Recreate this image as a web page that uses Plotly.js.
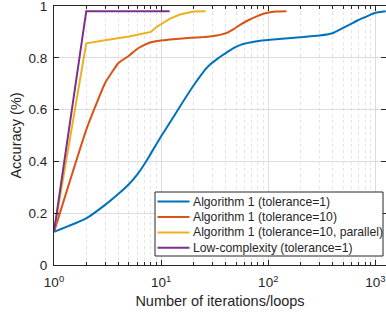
<!DOCTYPE html>
<html>
<head>
<meta charset="utf-8">
<script src="https://cdn.plot.ly/plotly-3.0.1.min.js"></script>
<style>html,body{margin:0;padding:0;background:#fff;}#chart{width:386px;height:316px;}</style>
</head>
<body>
<div id="chart"></div>
<script>
// Data
const seriesNames = [
  "Algorithm 1 (tolerance=1)",
  "Algorithm 1 (tolerance=10)",
  "Algorithm 1 (tolerance=10, parallel)",
  "Low-complexity (tolerance=1)"
];
const alg1Tol1X = [1,2,3,4,5,6,7,8,10,12,15,20,23,26,29,33,37,45,55,78,104,198,300,405,480,580,680,771,880,991,1104,1250];
const alg1Tol1Y = [0.128,0.180,0.232,0.275,0.312,0.350,0.390,0.430,0.497,0.548,0.612,0.692,0.727,0.756,0.776,0.794,0.809,0.832,0.850,0.864,0.870,0.879,0.886,0.896,0.912,0.929,0.944,0.954,0.965,0.973,0.977,0.980];
const alg1Tol10X = [1,2,3,4,5,6,7,8,10,13,19,25,33,41,48,55,65,78,90,104,120,148];
const alg1Tol10Y = [0.128,0.522,0.703,0.780,0.808,0.835,0.850,0.860,0.867,0.872,0.877,0.880,0.886,0.896,0.912,0.928,0.945,0.960,0.970,0.976,0.979,0.980];
const alg1ParX = [1,2,3,4,5,6,7,8,9,10.5,12,15,18,20,26];
const alg1ParY = [0.128,0.856,0.868,0.875,0.882,0.889,0.894,0.900,0.918,0.935,0.950,0.967,0.976,0.979,0.980];
const lowCompX = [1,2,12];
const lowCompY = [0.128,0.980,0.980];
const xTickVals = [1,10,100,1000];
const xTickText = ["10<sup>0</sup>","10<sup>1</sup>","10<sup>2</sup>","10<sup>3</sup>"];
const yTickVals = [0,0.2,0.4,0.6,0.8,1];
const yTickText = ["0","0.2","0.4","0.6","0.8","1"];

const colors = ["#0072BD","#D95319","#EDB120","#7E2F8E"];
const xs = [alg1Tol1X, alg1Tol10X, alg1ParX, lowCompX];
const ys = [alg1Tol1Y, alg1Tol10Y, alg1ParY, lowCompY];
const smooth = [0.5, 0.35, 0, 0];

const minorVals = [];
for (let d = 1; d <= 1000; d *= 10) {
  for (let k = 2; k <= 9; k++) minorVals.push(k * d);
}

const traces = seriesNames.map((n, i) => ({
  x: xs[i], y: ys[i], name: n, type: 'scatter', mode: 'lines',
  line: smooth[i] > 0 ? {color: colors[i], width: 2, shape: 'spline', smoothing: smooth[i]}
                      : {color: colors[i], width: 2},
  showlegend: false
}));

const font = {family: 'Liberation Sans, Arial, sans-serif', color: '#262626'};

// Custom compact legend (MATLAB-style), positioned in paper coords
const W = 386, H = 316, ML = 54, MT = 6, MB = 51;
const PW = W - ML, PH = H - MT - MB;
const px2x = p => (p - ML) / PW;
const py2y = p => (H - MB - p) / PH;
const shapes = [{
  type: 'rect', xref: 'paper', yref: 'paper',
  x0: px2x(155), x1: px2x(383), y0: py2y(256), y1: py2y(192),
  line: {color: '#262626', width: 1}, fillcolor: '#fff', layer: 'above'
}];
const annotations = [];
seriesNames.forEach((n, i) => {
  const py = 201.6 + i * 15.4;
  shapes.push({type: 'line', xref: 'paper', yref: 'paper',
    x0: px2x(157.5), x1: px2x(189.5), y0: py2y(py), y1: py2y(py),
    line: {color: colors[i], width: 2}, layer: 'above'});
  annotations.push({xref: 'paper', yref: 'paper', x: px2x(191), y: py2y(py),
    xanchor: 'left', yanchor: 'middle', text: n, showarrow: false,
    font: Object.assign({size: 12.2}, font)});
});

const layout = {
  width: W, height: H,
  margin: {l: ML, r: 0, t: MT, b: MB},
  paper_bgcolor: '#fff', plot_bgcolor: '#fff',
  font: Object.assign({size: 13}, font),
  showlegend: false,
  shapes: shapes, annotations: annotations,
  xaxis: {
    type: 'log', range: [0, 3.099],
    tickmode: 'array', tickvals: xTickVals, ticktext: xTickText,
    ticks: 'inside', ticklen: 5, tickcolor: '#262626',
    showline: true, linecolor: '#262626', linewidth: 1, mirror: 'ticks',
    showgrid: true, gridcolor: '#dcdcdc', gridwidth: 1,
    zeroline: false, ticklabeloverflow: 'allow', ticklabelstandoff: 5,
    tickfont: Object.assign({size: 13.5}, font),
    minor: {tickmode: 'array', tickvals: minorVals, ticks: 'inside', ticklen: 3, tickcolor: '#262626',
            showgrid: true, gridcolor: '#e4e4e4', griddash: 'dot', gridwidth: 1},
    title: {text: 'Number of iterations/loops', font: Object.assign({size: 14.5}, font), standoff: 6}
  },
  yaxis: {
    range: [0, 1],
    tickmode: 'array', tickvals: yTickVals, ticktext: yTickText,
    ticks: 'inside', ticklen: 5, tickcolor: '#262626',
    showline: true, linecolor: '#262626', linewidth: 1, mirror: 'ticks',
    showgrid: true, gridcolor: '#dcdcdc', gridwidth: 1,
    zeroline: false, ticklabeloverflow: 'allow', ticklabelstandoff: 3,
    tickfont: Object.assign({size: 13.5}, font),
    title: {text: 'Accuracy (%)', font: Object.assign({size: 14.5}, font), standoff: 3}
  }
};
Plotly.newPlot('chart', traces, layout, {staticPlot: true, displayModeBar: false});
</script>
</body>
</html>
